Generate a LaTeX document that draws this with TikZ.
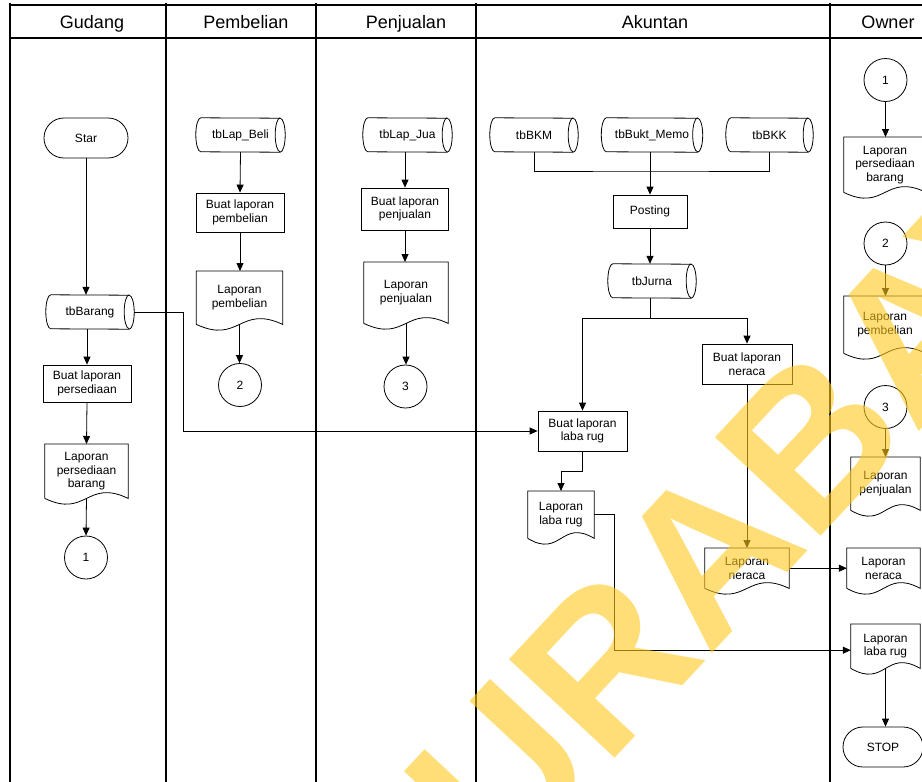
\documentclass[tikz,border=0pt]{standalone}
\usepackage{fontspec}
\setmainfont{Liberation Sans}
\usetikzlibrary{arrows.meta,calc}
\definecolor{wmyellow}{RGB}{255,200,30}
\tikzset{
 lane/.style={line width=1.6pt},
 shapeline/.style={line width=0.8pt},
 box/.style={draw, line width=0.8pt, align=center, inner sep=1pt},
 dbnode/.style={minimum height=34pt, inner sep=0pt},
 docnode/.style={align=center, inner sep=0pt},
 term/.style={draw, line width=.8pt, rounded corners=19.9pt, minimum height=40pt},
 conn/.style={draw, circle, line width=.8pt, minimum size=43pt, inner sep=0pt},
 arr/.style={line width=.8pt, -{Triangle[length=8pt,width=7pt]}},
 ln/.style={line width=.8pt},
 hdr/.style={font=\fontsize{18}{20}\selectfont, anchor=base},
}
\newcommand\dbdraw[1]{%
 \draw[shapeline] ([xshift=5pt]#1.north west) arc[start angle=90,end angle=270,x radius=5pt,y radius=17pt] -- ([xshift=-5pt]#1.south east) arc[start angle=-90,end angle=90,x radius=5pt,y radius=17pt] -- cycle;
 \draw[shapeline] ([xshift=-5pt]#1.north east) arc[start angle=90,end angle=270,x radius=5pt,y radius=17pt];}
\newcommand\docdraw[1]{%
 \draw[shapeline] (#1.south west) -- (#1.north west) -- (#1.north east) -- (#1.south east) .. controls ($(#1.south)+(0,-20)$) and ($(#1.south)+(0,20)$) .. (#1.south west);}
\begin{document}
\begin{tikzpicture}[x=1pt,y=-1pt,font=\fontsize{12}{13.5}\selectfont]
\useasboundingbox (0,0) rectangle (922,782);
\fill[white] (0,0) rectangle (922,782);
% lanes
\draw[lane] (10,5) -- (922,5);
\draw[lane] (10,38) -- (922,38);
\foreach \x in {10,166,316,476,830} {\draw[lane] (\x,3) -- (\x,782);}
\node[hdr] (h1) at (92,28) {Gudang};
\node[hdr] (h2) at (246,28) {Pembelian};
\node[hdr] (h3) at (406,28) {Penjualan};
\node[hdr] (h4) at (655,28) {Akuntan};
\node[hdr] (h5) at (888,28) {Owner};
% Gudang
\node[term, minimum width=84pt] (start) at (86,138) {Star};
\node[dbnode, minimum width=88pt] (tbBarang) at (90,312) {tbBarang};
\node[box, minimum width=88pt, minimum height=37pt] (bpers) at (87,383.5) {Buat laporan\\persediaan};
\node[docnode, minimum width=83pt, minimum height=54pt, anchor=north] (lpers) at (86.5,444) {Laporan\\persediaan\\barang};
\node[conn] (c1) at (86,557.5) {1};
% Pembelian
\node[dbnode, minimum width=89pt] (tbBeli) at (240.5,135) {tbLap\_Beli};
\node[box, minimum width=88pt, minimum height=39pt] (bpemb) at (240,212.5) {Buat laporan\\pembelian};
\node[docnode, minimum width=86pt, minimum height=53pt, anchor=north] (lpemb) at (239.5,271) {Laporan\\pembelian};
\node[conn] (c2) at (240,385) {2};
% Penjualan
\node[dbnode, minimum width=89pt] (tbJual) at (407.5,135) {tbLap\_Jua};
\node[box, minimum width=87pt, minimum height=42pt] (bpenj) at (405,209) {Buat laporan\\penjualan};
\node[docnode, minimum width=84pt, minimum height=61pt, anchor=north] (lpenj) at (406,262) {Laporan\\penjualan};
\node[conn] (c3) at (405.5,386.5) {3};
% Akuntan
\node[dbnode, minimum width=88pt] (tbBKM) at (534,135) {tbBKM};
\node[dbnode, minimum width=101pt] (tbMemo) at (652,135) {tbBukt\_Memo};
\node[dbnode, minimum width=87pt] (tbBKK) at (769.5,135) {tbBKK};
\node[box, minimum width=74pt, minimum height=33pt] (posting) at (650,211.5) {Posting};
\node[dbnode, minimum width=88pt] (tbJurnal) at (652,281) {tbJurna};
\node[box, minimum width=90pt, minimum height=40pt] (bln) at (747,364) {Buat laporan\\neraca};
\node[box, minimum width=89pt, minimum height=40pt] (blr) at (582.5,431) {Buat laporan\\laba rug};
\node[docnode, minimum width=66pt, minimum height=47pt, anchor=north] (llr) at (561,491) {Laporan\\laba rug};
\node[docnode, minimum width=84pt, minimum height=40pt, anchor=north] (lnr) at (747,548) {Laporan\\neraca};
\coordinate (j1) at (650,171);
\coordinate (j2) at (650,318);
% Owner
\node[conn] (o1) at (885.5,80) {1};
\node[docnode, minimum width=82pt, minimum height=55pt, anchor=north] (opers) at (885,137) {Laporan\\persediaan\\barang};
\node[conn] (o2) at (885.5,243.5) {2};
\node[docnode, minimum width=82pt, minimum height=57pt, anchor=north] (opemb) at (885,296) {Laporan\\pembelian};
\node[conn] (o3) at (885.5,407) {3};
\node[docnode, minimum width=69pt, minimum height=53pt, anchor=north] (openj) at (885.5,457) {Laporan\\penjualan};
\node[docnode, minimum width=73pt, minimum height=40pt, anchor=north] (onr) at (883.5,548) {Laporan\\neraca};
\node[docnode, minimum width=69pt, minimum height=44pt, anchor=north] (olr) at (885.5,624) {Laporan\\laba rug};
\node[term, minimum width=80pt] (stop) at (883,747) {STOP};
% shape outlines
\foreach \n in {tbBarang,tbBeli,tbJual,tbBKM,tbMemo,tbBKK,tbJurnal} {\dbdraw{\n}}
\foreach \n in {lpers,lpemb,lpenj,llr,lnr,opers,opemb,openj,onr,olr} {\docdraw{\n}}
% connectors
\draw[arr] (start.south) -- (start.south |- tbBarang.north);
\draw[arr] (bpers.north |- tbBarang.south) -- (bpers.north);
\draw[arr] (bpers.south) -- (lpers.north);
\draw[arr] (lpers.south) -- (c1.north);
\draw[arr] (tbBeli.south) -- (bpemb.north);
\draw[arr] (bpemb.south) -- (bpemb.south |- lpemb.north);
\draw[arr] (lpemb.south) -- (lpemb.south |- c2.north);
\draw[arr] (tbJual.south -| bpenj.north) -- (bpenj.north);
\draw[arr] (bpenj.south) -- (bpenj.south |- lpenj.north);
\draw[arr] (lpenj.south) -- (lpenj.south |- c3.north);
\draw[ln] (tbBKM.south) |- (j1) -| (tbBKK.south);
\draw[arr] (posting.north |- tbMemo.south) -- (posting.north);
\draw[arr] (posting.south) -- (posting.south |- tbJurnal.north);
\draw[ln] (j2 |- tbJurnal.south) -- (j2);
\draw[arr] (j2) -| (blr.north);
\draw[arr] (j2) -| (bln.north);
\draw[arr] (tbBarang.east) -- ++(49,0) |- (blr.west);
\draw[arr] (blr.south) -- ++(0,20) -| (llr.north);
\draw[arr] (bln.south) -- (lnr.north);
\draw[arr] (lnr.east) -- (lnr.east -| onr.west);
\draw[arr] (llr.east) -- ++(20,0) |- ([yshift=-4pt]olr.west);
\draw[arr] (o1.south) -- (o1.south |- opers.north);
\draw[arr] (o2.south) -- (o2.south |- opemb.north);
\draw[arr] (o3.south) -- (o3.south |- openj.north);
\draw[arr] (olr.south) -- (olr.south |- stop.north);
% watermark
\begin{scope}
\clip (0,0) rectangle (922,782);
\node[rotate=47, anchor=base west, text=wmyellow, text opacity=0.6, inner sep=0pt, font=\fontsize{210}{210}\selectfont\bfseries] (wm) at (406,982) {SURABAYA};
\end{scope}
\end{tikzpicture}
\end{document}
